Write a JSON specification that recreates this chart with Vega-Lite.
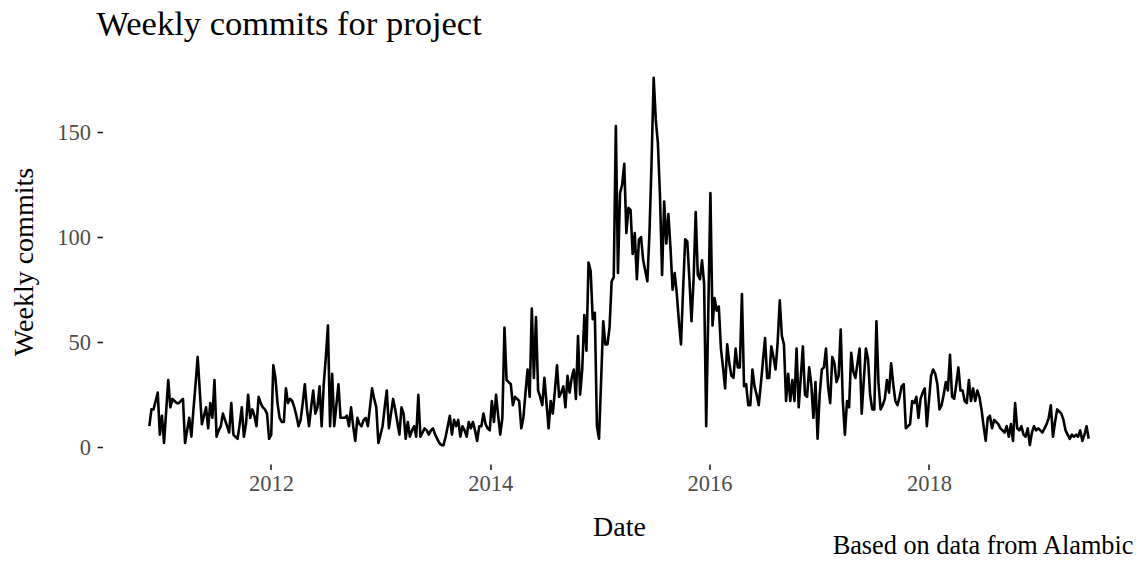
{
  "$schema": "https://vega.github.io/schema/vega-lite/v6.json",
  "padding": {"left": 10.5, "top": 6, "right": 5, "bottom": 5},
  "background": "white",
  "config": {"view": {"stroke": null}, "font": "Liberation Serif"},
  "title": {"text": "Weekly commits for project", "anchor": "start", "frame": "group", "dx": -6, "offset": -10, "baseline": "alphabetic", "font": "Liberation Serif", "fontSize": 34.5, "fontWeight": "normal", "color": "black"},
  "vconcat": [
    {
      "width": 1033,
      "height": 405,
      "title": {"text": "Based on data from Alambic", "orient": "bottom", "anchor": "end", "frame": "group", "baseline": "top", "offset": -8, "dx": -2, "font": "Liberation Serif", "fontSize": 26.3, "fontWeight": "normal", "color": "black"},
      "data": {"values": [
{"date":"2010-11-22","commits":10},{"date":"2010-11-29","commits":18},{"date":"2010-12-06","commits":18},{"date":"2010-12-13","commits":22},{"date":"2010-12-20","commits":26},{"date":"2010-12-27","commits":6},
{"date":"2011-01-03","commits":15},{"date":"2011-01-10","commits":2},{"date":"2011-01-17","commits":17},{"date":"2011-01-24","commits":32},{"date":"2011-01-31","commits":19},
{"date":"2011-02-07","commits":23},{"date":"2011-02-14","commits":22},{"date":"2011-02-21","commits":21},{"date":"2011-02-28","commits":21},
{"date":"2011-03-07","commits":22},{"date":"2011-03-14","commits":23},{"date":"2011-03-21","commits":2},{"date":"2011-03-28","commits":8},
{"date":"2011-04-04","commits":14},{"date":"2011-04-11","commits":5},{"date":"2011-04-18","commits":18},{"date":"2011-04-25","commits":30},
{"date":"2011-05-02","commits":43},{"date":"2011-05-09","commits":27},{"date":"2011-05-16","commits":11},{"date":"2011-05-23","commits":15},{"date":"2011-05-30","commits":19},
{"date":"2011-06-06","commits":9},{"date":"2011-06-13","commits":21},{"date":"2011-06-20","commits":14},{"date":"2011-06-27","commits":32},
{"date":"2011-07-04","commits":5},{"date":"2011-07-11","commits":8},{"date":"2011-07-18","commits":10},{"date":"2011-07-25","commits":16},
{"date":"2011-08-01","commits":13},{"date":"2011-08-08","commits":10},{"date":"2011-08-15","commits":7},{"date":"2011-08-22","commits":21},{"date":"2011-08-29","commits":6},
{"date":"2011-09-05","commits":5},{"date":"2011-09-12","commits":4},{"date":"2011-09-19","commits":11},{"date":"2011-09-26","commits":19},
{"date":"2011-10-03","commits":5},{"date":"2011-10-10","commits":11},{"date":"2011-10-17","commits":25},{"date":"2011-10-24","commits":14},{"date":"2011-10-31","commits":18},
{"date":"2011-11-07","commits":15},{"date":"2011-11-14","commits":10},{"date":"2011-11-21","commits":24},{"date":"2011-11-28","commits":21},
{"date":"2011-12-05","commits":19},{"date":"2011-12-12","commits":18},{"date":"2011-12-19","commits":16},{"date":"2011-12-26","commits":4},
{"date":"2012-01-02","commits":6},{"date":"2012-01-09","commits":39},{"date":"2012-01-16","commits":33},{"date":"2012-01-23","commits":21},{"date":"2012-01-30","commits":14},
{"date":"2012-02-06","commits":12},{"date":"2012-02-13","commits":12},{"date":"2012-02-20","commits":28},{"date":"2012-02-27","commits":21},
{"date":"2012-03-05","commits":23},{"date":"2012-03-12","commits":22},{"date":"2012-03-19","commits":19},{"date":"2012-03-26","commits":15},
{"date":"2012-04-02","commits":10},{"date":"2012-04-09","commits":13},{"date":"2012-04-16","commits":21},{"date":"2012-04-23","commits":30},{"date":"2012-04-30","commits":18},
{"date":"2012-05-07","commits":10},{"date":"2012-05-14","commits":19},{"date":"2012-05-21","commits":27},{"date":"2012-05-28","commits":16},
{"date":"2012-06-04","commits":19},{"date":"2012-06-11","commits":29},{"date":"2012-06-18","commits":10},{"date":"2012-06-25","commits":30},
{"date":"2012-07-02","commits":43},{"date":"2012-07-09","commits":58},{"date":"2012-07-16","commits":10},{"date":"2012-07-23","commits":35},{"date":"2012-07-30","commits":10},
{"date":"2012-08-06","commits":20},{"date":"2012-08-13","commits":30},{"date":"2012-08-20","commits":14},{"date":"2012-08-27","commits":14},
{"date":"2012-09-03","commits":14},{"date":"2012-09-10","commits":15},{"date":"2012-09-17","commits":10},{"date":"2012-09-24","commits":19},
{"date":"2012-10-01","commits":10},{"date":"2012-10-08","commits":3},{"date":"2012-10-15","commits":14},{"date":"2012-10-22","commits":11},{"date":"2012-10-29","commits":10},
{"date":"2012-11-05","commits":13},{"date":"2012-11-12","commits":14},{"date":"2012-11-19","commits":10},{"date":"2012-11-26","commits":19},
{"date":"2012-12-03","commits":28},{"date":"2012-12-10","commits":23},{"date":"2012-12-17","commits":19},{"date":"2012-12-24","commits":2},{"date":"2012-12-31","commits":6},
{"date":"2013-01-07","commits":10},{"date":"2013-01-14","commits":19},{"date":"2013-01-21","commits":27},{"date":"2013-01-28","commits":9},
{"date":"2013-02-04","commits":16},{"date":"2013-02-11","commits":23},{"date":"2013-02-18","commits":18},{"date":"2013-02-25","commits":12},
{"date":"2013-03-04","commits":6},{"date":"2013-03-11","commits":19},{"date":"2013-03-18","commits":16},{"date":"2013-03-25","commits":4},
{"date":"2013-04-01","commits":12},{"date":"2013-04-08","commits":5},{"date":"2013-04-15","commits":8},{"date":"2013-04-22","commits":10},{"date":"2013-04-29","commits":5},
{"date":"2013-05-06","commits":25},{"date":"2013-05-13","commits":5},{"date":"2013-05-20","commits":7},{"date":"2013-05-27","commits":9},
{"date":"2013-06-03","commits":8},{"date":"2013-06-10","commits":6},{"date":"2013-06-17","commits":8},{"date":"2013-06-24","commits":9},
{"date":"2013-07-01","commits":6},{"date":"2013-07-08","commits":4},{"date":"2013-07-15","commits":2},{"date":"2013-07-22","commits":1},{"date":"2013-07-29","commits":1},
{"date":"2013-08-05","commits":5},{"date":"2013-08-12","commits":10},{"date":"2013-08-19","commits":15},{"date":"2013-08-26","commits":6},
{"date":"2013-09-02","commits":13},{"date":"2013-09-09","commits":10},{"date":"2013-09-16","commits":13},{"date":"2013-09-23","commits":5},{"date":"2013-09-30","commits":10},
{"date":"2013-10-07","commits":8},{"date":"2013-10-14","commits":5},{"date":"2013-10-21","commits":12},{"date":"2013-10-28","commits":9},
{"date":"2013-11-04","commits":12},{"date":"2013-11-11","commits":8},{"date":"2013-11-18","commits":3},{"date":"2013-11-25","commits":10},
{"date":"2013-12-02","commits":10},{"date":"2013-12-09","commits":16},{"date":"2013-12-16","commits":11},{"date":"2013-12-23","commits":9},{"date":"2013-12-30","commits":8},
{"date":"2014-01-06","commits":22},{"date":"2014-01-13","commits":12},{"date":"2014-01-20","commits":25},{"date":"2014-01-27","commits":15},
{"date":"2014-02-03","commits":6},{"date":"2014-02-10","commits":14},{"date":"2014-02-17","commits":57},{"date":"2014-02-24","commits":32},
{"date":"2014-03-03","commits":31},{"date":"2014-03-10","commits":30},{"date":"2014-03-17","commits":20},{"date":"2014-03-24","commits":24},{"date":"2014-03-31","commits":23},
{"date":"2014-04-07","commits":22},{"date":"2014-04-14","commits":9},{"date":"2014-04-21","commits":14},{"date":"2014-04-28","commits":26},
{"date":"2014-05-05","commits":37},{"date":"2014-05-12","commits":24},{"date":"2014-05-19","commits":66},{"date":"2014-05-26","commits":33},
{"date":"2014-06-02","commits":62},{"date":"2014-06-09","commits":27},{"date":"2014-06-16","commits":24},{"date":"2014-06-23","commits":20},{"date":"2014-06-30","commits":33},
{"date":"2014-07-07","commits":21},{"date":"2014-07-14","commits":9},{"date":"2014-07-21","commits":22},{"date":"2014-07-28","commits":16},
{"date":"2014-08-04","commits":27},{"date":"2014-08-11","commits":39},{"date":"2014-08-18","commits":24},{"date":"2014-08-25","commits":26},
{"date":"2014-09-01","commits":29},{"date":"2014-09-08","commits":19},{"date":"2014-09-15","commits":34},{"date":"2014-09-22","commits":26},{"date":"2014-09-29","commits":33},
{"date":"2014-10-06","commits":37},{"date":"2014-10-13","commits":23},{"date":"2014-10-20","commits":53},{"date":"2014-10-27","commits":25},
{"date":"2014-11-03","commits":37},{"date":"2014-11-10","commits":63},{"date":"2014-11-17","commits":46},{"date":"2014-11-24","commits":88},
{"date":"2014-12-01","commits":84},{"date":"2014-12-08","commits":61},{"date":"2014-12-15","commits":64},{"date":"2014-12-22","commits":10},{"date":"2014-12-29","commits":4},
{"date":"2015-01-05","commits":32},{"date":"2015-01-12","commits":60},{"date":"2015-01-19","commits":49},{"date":"2015-01-26","commits":49},
{"date":"2015-02-02","commits":57},{"date":"2015-02-09","commits":79},{"date":"2015-02-16","commits":81},{"date":"2015-02-23","commits":153},
{"date":"2015-03-02","commits":83},{"date":"2015-03-09","commits":121},{"date":"2015-03-16","commits":125},{"date":"2015-03-23","commits":135},{"date":"2015-03-30","commits":102},
{"date":"2015-04-06","commits":114},{"date":"2015-04-13","commits":113},{"date":"2015-04-20","commits":92},{"date":"2015-04-27","commits":102},
{"date":"2015-05-04","commits":80},{"date":"2015-05-11","commits":99},{"date":"2015-05-18","commits":100},{"date":"2015-05-25","commits":89},
{"date":"2015-06-01","commits":84},{"date":"2015-06-08","commits":79},{"date":"2015-06-15","commits":102},{"date":"2015-06-22","commits":136},{"date":"2015-06-29","commits":176},
{"date":"2015-07-06","commits":156},{"date":"2015-07-13","commits":145},{"date":"2015-07-20","commits":120},{"date":"2015-07-27","commits":82},
{"date":"2015-08-03","commits":117},{"date":"2015-08-10","commits":97},{"date":"2015-08-17","commits":111},{"date":"2015-08-24","commits":95},{"date":"2015-08-31","commits":75},
{"date":"2015-09-07","commits":83},{"date":"2015-09-14","commits":73},{"date":"2015-09-21","commits":60},{"date":"2015-09-28","commits":49},
{"date":"2015-10-05","commits":75},{"date":"2015-10-12","commits":99},{"date":"2015-10-19","commits":98},{"date":"2015-10-26","commits":80},
{"date":"2015-11-02","commits":60},{"date":"2015-11-09","commits":80},{"date":"2015-11-16","commits":112},{"date":"2015-11-23","commits":82},{"date":"2015-11-30","commits":80},
{"date":"2015-12-07","commits":89},{"date":"2015-12-14","commits":78},{"date":"2015-12-21","commits":10},{"date":"2015-12-28","commits":65},
{"date":"2016-01-04","commits":121},{"date":"2016-01-11","commits":58},{"date":"2016-01-18","commits":71},{"date":"2016-01-25","commits":65},
{"date":"2016-02-01","commits":67},{"date":"2016-02-08","commits":47},{"date":"2016-02-15","commits":38},{"date":"2016-02-22","commits":28},{"date":"2016-02-29","commits":49},
{"date":"2016-03-07","commits":40},{"date":"2016-03-14","commits":34},{"date":"2016-03-21","commits":33},{"date":"2016-03-28","commits":47},
{"date":"2016-04-04","commits":38},{"date":"2016-04-11","commits":38},{"date":"2016-04-18","commits":73},{"date":"2016-04-25","commits":29},
{"date":"2016-05-02","commits":30},{"date":"2016-05-09","commits":20},{"date":"2016-05-16","commits":20},{"date":"2016-05-23","commits":37},{"date":"2016-05-30","commits":29},
{"date":"2016-06-06","commits":25},{"date":"2016-06-13","commits":20},{"date":"2016-06-20","commits":30},{"date":"2016-06-27","commits":41},
{"date":"2016-07-04","commits":52},{"date":"2016-07-11","commits":33},{"date":"2016-07-18","commits":33},{"date":"2016-07-25","commits":48},
{"date":"2016-08-01","commits":43},{"date":"2016-08-08","commits":37},{"date":"2016-08-15","commits":50},{"date":"2016-08-22","commits":70},{"date":"2016-08-29","commits":53},
{"date":"2016-09-05","commits":49},{"date":"2016-09-12","commits":22},{"date":"2016-09-19","commits":35},{"date":"2016-09-26","commits":22},
{"date":"2016-10-03","commits":32},{"date":"2016-10-10","commits":22},{"date":"2016-10-17","commits":47},{"date":"2016-10-24","commits":19},{"date":"2016-10-31","commits":33},
{"date":"2016-11-07","commits":48},{"date":"2016-11-14","commits":25},{"date":"2016-11-21","commits":24},{"date":"2016-11-28","commits":38},
{"date":"2016-12-05","commits":30},{"date":"2016-12-12","commits":14},{"date":"2016-12-19","commits":31},{"date":"2016-12-26","commits":4},
{"date":"2017-01-02","commits":25},{"date":"2017-01-09","commits":37},{"date":"2017-01-16","commits":38},{"date":"2017-01-23","commits":47},{"date":"2017-01-30","commits":29},
{"date":"2017-02-06","commits":21},{"date":"2017-02-13","commits":43},{"date":"2017-02-20","commits":40},{"date":"2017-02-27","commits":31},
{"date":"2017-03-06","commits":34},{"date":"2017-03-13","commits":56},{"date":"2017-03-20","commits":22},{"date":"2017-03-27","commits":6},
{"date":"2017-04-03","commits":22},{"date":"2017-04-10","commits":19},{"date":"2017-04-17","commits":45},{"date":"2017-04-24","commits":36},
{"date":"2017-05-01","commits":33},{"date":"2017-05-08","commits":40},{"date":"2017-05-15","commits":47},{"date":"2017-05-22","commits":16},{"date":"2017-05-29","commits":32},
{"date":"2017-06-05","commits":47},{"date":"2017-06-12","commits":42},{"date":"2017-06-19","commits":25},{"date":"2017-06-26","commits":18},
{"date":"2017-07-03","commits":18},{"date":"2017-07-10","commits":60},{"date":"2017-07-17","commits":30},{"date":"2017-07-24","commits":18},{"date":"2017-07-31","commits":20},
{"date":"2017-08-07","commits":23},{"date":"2017-08-14","commits":32},{"date":"2017-08-21","commits":26},{"date":"2017-08-28","commits":40},
{"date":"2017-09-04","commits":30},{"date":"2017-09-11","commits":22},{"date":"2017-09-18","commits":20},{"date":"2017-09-25","commits":24},
{"date":"2017-10-02","commits":29},{"date":"2017-10-09","commits":30},{"date":"2017-10-16","commits":9},{"date":"2017-10-23","commits":10},{"date":"2017-10-30","commits":11},
{"date":"2017-11-06","commits":22},{"date":"2017-11-13","commits":21},{"date":"2017-11-20","commits":24},{"date":"2017-11-27","commits":14},
{"date":"2017-12-04","commits":23},{"date":"2017-12-11","commits":26},{"date":"2017-12-18","commits":28},{"date":"2017-12-25","commits":10},
{"date":"2018-01-01","commits":22},{"date":"2018-01-08","commits":34},{"date":"2018-01-15","commits":37},{"date":"2018-01-22","commits":35},{"date":"2018-01-29","commits":30},
{"date":"2018-02-05","commits":18},{"date":"2018-02-12","commits":20},{"date":"2018-02-19","commits":25},{"date":"2018-02-26","commits":31},
{"date":"2018-03-05","commits":27},{"date":"2018-03-12","commits":44},{"date":"2018-03-19","commits":24},{"date":"2018-03-26","commits":23},
{"date":"2018-04-02","commits":30},{"date":"2018-04-09","commits":38},{"date":"2018-04-16","commits":27},{"date":"2018-04-23","commits":27},{"date":"2018-04-30","commits":22},
{"date":"2018-05-07","commits":21},{"date":"2018-05-14","commits":32},{"date":"2018-05-21","commits":22},{"date":"2018-05-28","commits":28},
{"date":"2018-06-04","commits":22},{"date":"2018-06-11","commits":27},{"date":"2018-06-18","commits":24},{"date":"2018-06-25","commits":18},
{"date":"2018-07-02","commits":10},{"date":"2018-07-09","commits":3},{"date":"2018-07-16","commits":14},{"date":"2018-07-23","commits":15},{"date":"2018-07-30","commits":9},
{"date":"2018-08-06","commits":13},{"date":"2018-08-13","commits":12},{"date":"2018-08-20","commits":11},{"date":"2018-08-27","commits":9},
{"date":"2018-09-03","commits":8},{"date":"2018-09-10","commits":7},{"date":"2018-09-17","commits":10},{"date":"2018-09-24","commits":5},
{"date":"2018-10-01","commits":11},{"date":"2018-10-08","commits":3},{"date":"2018-10-15","commits":21},{"date":"2018-10-22","commits":9},{"date":"2018-10-29","commits":8},
{"date":"2018-11-05","commits":10},{"date":"2018-11-12","commits":6},{"date":"2018-11-19","commits":5},{"date":"2018-11-26","commits":9},
{"date":"2018-12-03","commits":1},{"date":"2018-12-10","commits":7},{"date":"2018-12-17","commits":10},{"date":"2018-12-24","commits":8},{"date":"2018-12-31","commits":9},
{"date":"2019-01-07","commits":8},{"date":"2019-01-14","commits":7},{"date":"2019-01-21","commits":9},{"date":"2019-01-28","commits":11},
{"date":"2019-02-04","commits":14},{"date":"2019-02-11","commits":20},{"date":"2019-02-18","commits":5},{"date":"2019-02-25","commits":12},
{"date":"2019-03-04","commits":18},{"date":"2019-03-11","commits":17},{"date":"2019-03-18","commits":16},{"date":"2019-03-25","commits":13},
{"date":"2019-04-01","commits":8},{"date":"2019-04-08","commits":6},{"date":"2019-04-15","commits":4},{"date":"2019-04-22","commits":6},{"date":"2019-04-29","commits":5},
{"date":"2019-05-06","commits":6},{"date":"2019-05-13","commits":5},{"date":"2019-05-20","commits":8},{"date":"2019-05-27","commits":3},
{"date":"2019-06-03","commits":6},{"date":"2019-06-10","commits":10},{"date":"2019-06-17","commits":4}
      ]},
      "mark": {"type": "line", "color": "black", "strokeWidth": 2.6, "strokeJoin": "round"},
      "encoding": {
        "x": {
          "field": "date", "type": "temporal",
          "scale": {"type": "utc", "nice": false, "domain": [{"year": 2010, "month": 6, "date": 19, "utc": true}, {"year": 2019, "month": 11, "date": 20, "utc": true}]},
          "axis": {
            "title": "Date",
            "values": [{"year": 2012, "month": 1, "date": 1, "utc": true}, {"year": 2014, "month": 1, "date": 1, "utc": true}, {"year": 2016, "month": 1, "date": 1, "utc": true}, {"year": 2018, "month": 1, "date": 1, "utc": true}],
            "format": "%Y", "formatType": "utc",
            "domain": false, "grid": false,
            "tickSize": 5.5, "tickWidth": 1.6, "tickColor": "#222222",
            "labelFont": "Liberation Serif", "labelFontSize": 22.5, "labelColor": "#4d4d4d", "labelPadding": 3,
            "titleFont": "Liberation Serif", "titleFontSize": 28, "titleFontWeight": "normal", "titleColor": "black",
            "titleX": 516.5, "titleY": 71, "titleBaseline": "alphabetic", "titleAlign": "center"
          }
        },
        "y": {
          "field": "commits", "type": "quantitative",
          "scale": {"domain": [-8, 184.9], "nice": false, "zero": false},
          "axis": {
            "title": "Weekly commits",
            "values": [0, 50, 100, 150],
            "domain": false, "grid": false,
            "tickSize": 5.5, "tickWidth": 1.6, "tickColor": "#222222",
            "labelFont": "Liberation Serif", "labelFontSize": 22.5, "labelColor": "#4d4d4d", "labelPadding": 6.5,
            "titleFont": "Liberation Serif", "titleFontSize": 28, "titleFontWeight": "normal", "titleColor": "black",
            "titleX": -70, "titleY": 202.5, "titleAngle": -90, "titleBaseline": "alphabetic", "titleAlign": "center"
          }
        }
      }
    }
  ]
}
